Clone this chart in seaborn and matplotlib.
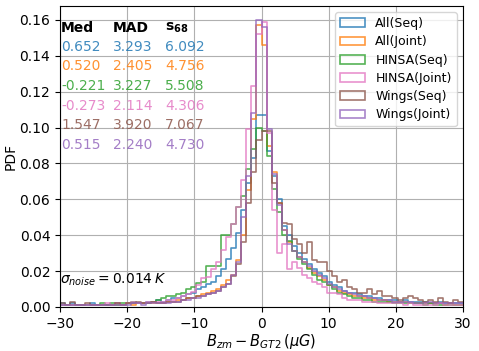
import numpy as np
import pandas as pd
import matplotlib
matplotlib.use("Agg")
import matplotlib.pyplot as plt
from matplotlib.patches import Patch
import seaborn as sns

# DATA : hauteurs des bins (PDF), 80 bins de 0.75 entre -30 et 30

labels = ["All(Seq)", "All(Joint)", "HINSA(Seq)", "HINSA(Joint)", "Wings(Seq)", "Wings(Joint)"]
colors = ["#1f77b4", "#ff7f0e", "#2ca02c", "#e377c2", "#8c564b", "#9467bd"]

all_seq = [
    0.002, 0.001, 0.002, 0.001, 0.001, 0.001, 0.002, 0.001, 0.001, 0.001,
    0.001, 0.002, 0.001, 0.002, 0.002, 0.002, 0.002, 0.003, 0.003, 0.004,
    0.003, 0.004, 0.005, 0.005, 0.006, 0.007, 0.008, 0.010, 0.011, 0.013,
    0.014, 0.017, 0.021, 0.027, 0.033, 0.041, 0.054, 0.069, 0.083, 0.107,
    0.107, 0.087, 0.073, 0.060, 0.045, 0.040, 0.034, 0.030, 0.027, 0.024,
    0.021, 0.019, 0.017, 0.014, 0.012, 0.011, 0.009, 0.008, 0.008, 0.007,
    0.006, 0.006, 0.005, 0.005, 0.004, 0.004, 0.004, 0.003, 0.004, 0.003,
    0.003, 0.003, 0.003, 0.002, 0.002, 0.003, 0.002, 0.002, 0.002, 0.002,
]
all_joint = [
    0.001, 0.001, 0.001, 0.001, 0.001, 0.001, 0.001, 0.001, 0.001, 0.001,
    0.001, 0.001, 0.001, 0.002, 0.001, 0.002, 0.002, 0.002, 0.002, 0.002,
    0.002, 0.003, 0.003, 0.004, 0.004, 0.005, 0.005, 0.006, 0.007, 0.008,
    0.009, 0.010, 0.012, 0.015, 0.018, 0.026, 0.040, 0.065, 0.105, 0.157,
    0.146, 0.090, 0.075, 0.058, 0.043, 0.036, 0.031, 0.028, 0.025, 0.022,
    0.019, 0.017, 0.015, 0.012, 0.011, 0.009, 0.008, 0.007, 0.006, 0.006,
    0.005, 0.005, 0.004, 0.004, 0.004, 0.003, 0.003, 0.003, 0.003, 0.002,
    0.002, 0.002, 0.002, 0.002, 0.002, 0.002, 0.001, 0.002, 0.001, 0.001,
]
hinsa_seq = [
    0.001, 0.001, 0.001, 0.001, 0.001, 0.001, 0.001, 0.001, 0.002, 0.001,
    0.002, 0.001, 0.002, 0.002, 0.003, 0.002, 0.002, 0.002, 0.003, 0.004,
    0.005, 0.006, 0.006, 0.007, 0.008, 0.010, 0.011, 0.0135, 0.014, 0.023,
    0.023, 0.023, 0.040, 0.040, 0.046, 0.056, 0.062, 0.077, 0.088, 0.100,
    0.098, 0.084, 0.066, 0.053, 0.040, 0.037, 0.031, 0.027, 0.024, 0.021,
    0.018, 0.015, 0.014, 0.012, 0.010, 0.008, 0.007, 0.006, 0.005, 0.005,
    0.004, 0.004, 0.003, 0.003, 0.003, 0.003, 0.002, 0.002, 0.002, 0.002,
    0.002, 0.002, 0.001, 0.002, 0.001, 0.001, 0.001, 0.001, 0.001, 0.001,
]
hinsa_joint = [
    0.001, 0.001, 0.001, 0.001, 0.001, 0.001, 0.001, 0.001, 0.001, 0.002,
    0.001, 0.002, 0.001, 0.002, 0.003, 0.002, 0.002, 0.003, 0.003, 0.003,
    0.003, 0.004, 0.004, 0.005, 0.006, 0.007, 0.0085, 0.012, 0.016, 0.0165,
    0.021, 0.025, 0.032, 0.039, 0.046, 0.056, 0.071, 0.099, 0.123, 0.152,
    0.159, 0.097, 0.054, 0.030, 0.035, 0.021, 0.025, 0.022, 0.018, 0.016,
    0.014, 0.013, 0.011, 0.008, 0.008, 0.007, 0.005, 0.004, 0.004, 0.004,
    0.003, 0.003, 0.003, 0.002, 0.002, 0.002, 0.002, 0.002, 0.001, 0.002,
    0.001, 0.001, 0.001, 0.001, 0.001, 0.002, 0.001, 0.001, 0.001, 0.001,
]
wings_seq = [
    0.002, 0.001, 0.003, 0.001, 0.001, 0.002, 0.001, 0.001, 0.001, 0.001,
    0.001, 0.002, 0.001, 0.002, 0.002, 0.003, 0.002, 0.002, 0.003, 0.002,
    0.002, 0.003, 0.003, 0.003, 0.004, 0.005, 0.005, 0.006, 0.006, 0.007,
    0.008, 0.009, 0.011, 0.013, 0.017, 0.024, 0.036, 0.058, 0.075, 0.093,
    0.098, 0.098, 0.069, 0.058, 0.047, 0.046, 0.038, 0.035, 0.030, 0.036,
    0.026, 0.025, 0.025, 0.020, 0.017, 0.014, 0.015, 0.011, 0.010, 0.008,
    0.008, 0.010, 0.007, 0.009, 0.006, 0.006, 0.005, 0.004, 0.005, 0.006,
    0.005, 0.004, 0.003, 0.004, 0.003, 0.005, 0.003, 0.002, 0.004, 0.003,
]
wings_joint = [
    0.001, 0.001, 0.001, 0.001, 0.001, 0.001, 0.001, 0.001, 0.001, 0.001,
    0.001, 0.001, 0.001, 0.001, 0.002, 0.002, 0.001, 0.002, 0.002, 0.002,
    0.002, 0.002, 0.003, 0.003, 0.004, 0.004, 0.005, 0.005, 0.006, 0.007,
    0.008, 0.009, 0.011, 0.013, 0.018, 0.025, 0.050, 0.073, 0.108, 0.160,
    0.156, 0.099, 0.074, 0.057, 0.043, 0.035, 0.031, 0.028, 0.025, 0.023,
    0.020, 0.018, 0.016, 0.013, 0.011, 0.010, 0.009, 0.008, 0.007, 0.006,
    0.006, 0.005, 0.005, 0.004, 0.004, 0.004, 0.003, 0.003, 0.003, 0.003,
    0.002, 0.002, 0.002, 0.003, 0.002, 0.002, 0.002, 0.002, 0.002, 0.002,
]

# statistiques affichées en haut à gauche
med = ["0.652", "0.520", "-0.221", "-0.273", "1.547", "0.515"]
mad = ["3.293", "2.405", "3.227", "2.114", "3.920", "2.240"]
s68 = ["6.092", "4.756", "5.508", "4.306", "7.067", "4.730"]

series = [all_seq, all_joint, hinsa_seq, hinsa_joint, wings_seq, wings_joint]

# PLOT

edges = np.linspace(-30, 30, 81)
centers = 0.5 * (edges[:-1] + edges[1:])

fig = plt.figure(figsize=(4.79, 3.51), dpi=100)
ax = fig.add_axes([0.1253, 0.1254, 0.8413, 0.8576])

for vals, c, lab in zip(series, colors, labels):
    df = pd.DataFrame({"x": centers, "w": vals})
    sns.histplot(data=df, x="x", weights="w", binwidth=0.75, binrange=(-30, 30),
                 element="step", fill=False, stat="count", color=c, alpha=0.8,
                 linewidth=1.2, ax=ax)

ax.set_xlim(-30, 30)
ax.set_ylim(0, 0.1678)
ax.set_xticks([-30, -20, -10, 0, 10, 20, 30])
ax.set_yticks(np.arange(0, 0.161, 0.02))
ax.yaxis.set_major_formatter(plt.FormatStrFormatter("%.2f"))
ax.tick_params(labelsize=10)
ax.grid(True, color="#b0b0b0", linewidth=0.8)
ax.set_axisbelow(True)
ax.set_ylabel("PDF", fontsize=10)
ax.yaxis.set_label_coords(-0.105, 0.5)
ax.set_xlabel(r"$B_{zm} - B_{GT2}\,(\mu G)$", fontsize=10.5)
ax.xaxis.set_label_coords(0.5, -0.082)

handles = [Patch(facecolor="none", edgecolor=c, alpha=0.8, linewidth=1.2) for c in colors]
ax.legend(handles, labels, loc="upper right", fontsize=9, framealpha=0.8,
          labelspacing=0.42)

# tableau Med / MAD / s68
col_x = [0.003, 0.1315, 0.2605]
ax.text(col_x[0], 0.928, "Med", transform=ax.transAxes, fontsize=10,
        fontweight="bold", va="center")
ax.text(col_x[1], 0.928, "MAD", transform=ax.transAxes, fontsize=10,
        fontweight="bold", va="center")
ax.text(col_x[2], 0.928, r"$\mathbf{s_{68}}$", transform=ax.transAxes, fontsize=10,
        va="center")
for i, c in enumerate(colors):
    y = 0.865 - 0.0655 * i
    for j, col in enumerate([med, mad, s68]):
        ax.text(col_x[j], y, col[i], transform=ax.transAxes, fontsize=10,
                color=c, alpha=0.85, va="center")

ax.text(0.0, 0.09, r"$\sigma_{noise} = 0.014\,K$", transform=ax.transAxes,
        fontsize=10, va="center")

fig.savefig("out.png", dpi=100)
plt.close()
